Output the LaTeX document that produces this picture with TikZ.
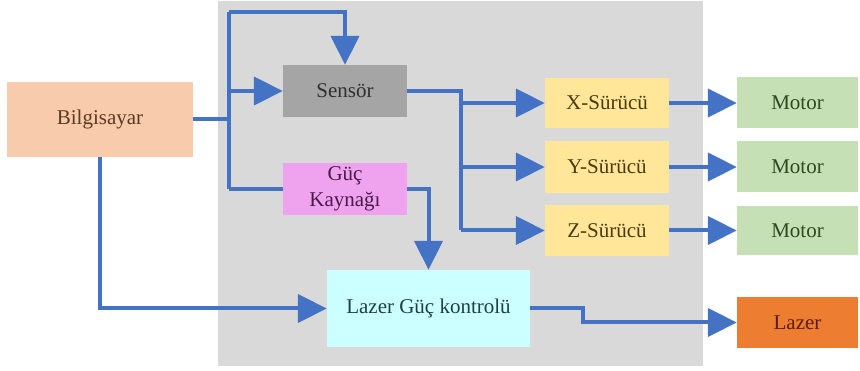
\documentclass[tikz,border=0pt]{standalone}
\usepackage{fontspec}
\setmainfont{Liberation Serif}
\usetikzlibrary{arrows.meta}
\definecolor{bggray}{HTML}{D9D9D9}
\definecolor{arrowblue}{HTML}{4472C4}
\definecolor{peach}{HTML}{F8CBAD}
\definecolor{sensgray}{HTML}{A5A5A5}
\definecolor{pinkbox}{HTML}{EFA3EF}
\definecolor{cyanbox}{HTML}{CCFFFF}
\definecolor{yellowbox}{HTML}{FFE699}
\definecolor{greenbox}{HTML}{C5E0B4}
\definecolor{orangebox}{HTML}{ED7D31}
\definecolor{tbrown}{HTML}{5C3A1E}
\definecolor{tgray}{HTML}{303030}
\definecolor{tpurple}{HTML}{4A1A4A}
\definecolor{tteal}{HTML}{1F4040}
\definecolor{tyellow}{HTML}{4A3A10}
\definecolor{tgreen}{HTML}{2E4A22}
\definecolor{tred}{HTML}{5A1E05}
\begin{document}
\begin{tikzpicture}[x=1pt,y=-1pt,
  box/.style={draw=none, inner sep=0pt, align=center, font=\fontsize{21}{26}\selectfont},
  conn/.style={draw=arrowblue, line width=4pt, -{Triangle[length=29pt,width=28pt]}},
  wire/.style={draw=arrowblue, line width=4pt}]
\useasboundingbox (0,0) rectangle (860,371);
\fill[bggray] (218,1) rectangle (703,366);

\node[box, fill=peach, text=tbrown, minimum width=186pt, minimum height=75pt] (pc) at (100,119.5) {Bilgisayar};
\node[box, fill=sensgray, text=tgray, minimum width=124pt, minimum height=52pt] (sen) at (345,91) {Sensör};
\node[box, fill=pinkbox, text=tpurple, minimum width=124pt, minimum height=52pt] (guc) at (345,189) {Güç\\Kaynağı};
\node[box, fill=cyanbox, text=tteal, minimum width=203pt, minimum height=77pt] (lgk) at (428.5,308.5) {Lazer Güç kontrolü};
\node[box, fill=yellowbox, text=tyellow, minimum width=124pt, minimum height=50pt] (xs) at (607,103) {X-Sürücü};
\node[box, fill=yellowbox, text=tyellow, minimum width=124pt, minimum height=52pt] (ys) at (607,167) {Y-Sürücü};
\node[box, fill=yellowbox, text=tyellow, minimum width=124pt, minimum height=51pt] (zs) at (607,230.5) {Z-Sürücü};
\node[box, fill=greenbox, text=tgreen, minimum width=121pt, minimum height=51pt] (m1) at (797.5,103) {Motor};
\node[box, fill=greenbox, text=tgreen, minimum width=121pt, minimum height=51pt] (m2) at (797.5,167) {Motor};
\node[box, fill=greenbox, text=tgreen, minimum width=121pt, minimum height=49pt] (m3) at (797.5,230.5) {Motor};
\node[box, fill=orangebox, text=tred, minimum width=121pt, minimum height=51pt] (lz) at (797.5,322.5) {Lazer};

\coordinate (ttop) at (229,12);
\coordinate (tmid) at (229,119.5);
\coordinate (tbot) at (229,189);
\coordinate (ztrunk) at (461,230.5);
\coordinate (step) at (583,322.5);

\draw[wire] (pc.east) -- (tmid);
\draw[wire] (ttop) -- (tbot);
\draw[conn] (ttop) -| (sen.north);
\draw[conn] (sen.west -| ttop) -- (sen.west);
\draw[wire] (tbot) -- (guc.west);

\draw[wire] (sen.east) -| (ztrunk);
\draw[conn] (xs.west -| ztrunk) -- (xs.west);
\draw[conn] (ys.west -| ztrunk) -- (ys.west);
\draw[conn] (ztrunk) -- (zs.west);

\draw[conn] (xs.east) -- (m1.west);
\draw[conn] (ys.east) -- (m2.west);
\draw[conn] (zs.east) -- (m3.west);

\draw[conn] (guc.east) -| (lgk.north);
\draw[conn] (pc.south) |- (lgk.west);
\draw[conn] (lgk.east) -| (step) -- (lz.west);
\end{tikzpicture}
\end{document}
